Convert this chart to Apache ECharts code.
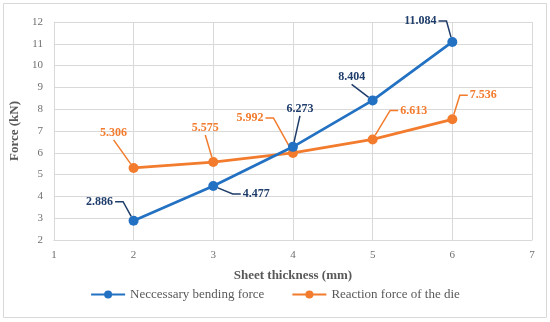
<!DOCTYPE html>
<html>
<head>
<meta charset="utf-8">
<script src="https://cdn.jsdelivr.net/npm/echarts@6/dist/echarts.min.js"></script>
<style>html,body{margin:0;padding:0;background:#fff}#c{width:550px;height:322px}</style>
</head>
<body>
<div id="c"></div>
<script>
var thickness = [2, 3, 4, 5, 6];
var bendingForce = [2.886, 4.477, 6.273, 8.404, 11.084];
var reactionForce = [5.306, 5.575, 5.992, 6.613, 7.536];
var seriesNames = ['Neccessary bending force', 'Reaction force of the die'];

// label offsets (style, not data)
var labelOffsets = [
  [[-34,-19],[43,8],[7,-38],[-21,-23],[-32,-21]],
  [[-20,-35],[-8,-34],[-43,-35],[41,-29],[31,-24]]
];
var leaderSides = [
  ['right','left','bottom','bottom','right'],
  ['bottom','bottom','right','left','left']
];

var FONT = '"Liberation Serif", "DejaVu Serif", serif';
var BLUE = '#2371c2', ORANGE = '#f27b2d';
var BLUE_TXT = '#1f3d6b', ORANGE_TXT = '#f27b2d';
var allVals = [bendingForce, reactionForce];

var mctx = document.createElement('canvas').getContext('2d');
mctx.font = 'bold 12px ' + FONT;
function textW(t) { return mctx.measureText(t).width; }

function makeLayout(si) {
  return function (p) {
    var off = labelOffsets[si][p.dataIndex];
    var cx = p.rect.x + p.rect.width / 2;
    var cy = p.rect.y + p.rect.height / 2;
    return { x: cx + off[0], y: cy + off[1], align: 'center', verticalAlign: 'middle' };
  };
}

function mk(si, vals, color, txt) {
  return {
    name: seriesNames[si],
    type: 'line',
    data: thickness.map(function (x, i) { return [x, vals[i]]; }),
    symbol: 'circle',
    symbolSize: 10,
    lineStyle: { color: color, width: 2.75 },
    itemStyle: { color: color },
    label: {
      show: true,
      formatter: function (p) { return vals[p.dataIndex].toFixed(3); },
      fontFamily: FONT, fontWeight: 'bold', fontSize: 12, color: txt
    },
    labelLayout: makeLayout(si),
    z: 3 - si
  };
}

function leaders(si, txt) {
  var vals = allVals[si];
  return {
    type: 'custom',
    silent: true,
    z: 1,
    data: thickness.map(function (x, i) { return [x, vals[i], i]; }),
    renderItem: function (params, api) {
      var i = api.value(2);
      var c = api.coord([api.value(0), api.value(1)]);
      var off = labelOffsets[si][i];
      var lx = c[0] + off[0], ly = c[1] + off[1];
      var w = textW(vals[i].toFixed(3));
      var side = leaderSides[si][i];
      var s, m;
      if (side === 'right') { s = [lx + w / 2 + 2, ly]; m = [s[0] + 8, ly]; }
      else if (side === 'left') { s = [lx - w / 2 - 2, ly]; m = [s[0] - 8, ly]; }
      else { s = [lx, ly + 7]; m = [(lx + c[0]) / 2, (ly + 7 + c[1]) / 2]; }
      var dx = m[0] - c[0], dy = m[1] - c[1], d = Math.sqrt(dx * dx + dy * dy) || 1;
      var e = [c[0] + dx / d * 5, c[1] + dy / d * 5];
      return {
        type: 'polyline',
        shape: { points: [s, m, e] },
        style: { fill: 'none', stroke: txt, lineWidth: 1.5 }
      };
    }
  };
}

var chart = echarts.init(document.getElementById('c'), null, { renderer: 'canvas' });
chart.setOption({
  animation: false,
  backgroundColor: '#fff',
  textStyle: { fontFamily: FONT },
  graphic: [{
    type: 'rect', shape: { x: 3.5, y: 3.5, width: 543, height: 314 },
    style: { fill: 'none', stroke: '#d9d9d9', lineWidth: 1 }, silent: true
  }],
  grid: { left: 51, right: 18, top: 22, bottom: 82 },
  xAxis: {
    type: 'value', min: 1, max: 7, interval: 1,
    name: 'Sheet thickness (mm)', nameLocation: 'middle', nameGap: 29,
    nameTextStyle: { fontFamily: FONT, fontWeight: 'bold', fontSize: 13, color: '#595959' },
    axisLine: { show: true, lineStyle: { color: '#d9d9d9' } },
    axisTick: { show: false },
    axisLabel: { margin: 10, fontFamily: FONT, fontSize: 11, color: '#6f6f6f' },
    splitLine: { show: true, lineStyle: { color: '#d9d9d9' } }
  },
  yAxis: {
    type: 'value', min: 2, max: 12, interval: 1,
    name: 'Force (kN)', nameLocation: 'middle', nameGap: 22,
    nameTextStyle: { fontFamily: FONT, fontWeight: 'bold', fontSize: 13, color: '#595959' },
    axisLine: { show: true, lineStyle: { color: '#d9d9d9' } },
    axisTick: { show: false },
    axisLabel: { margin: 11, fontFamily: FONT, fontSize: 11, color: '#6f6f6f' },
    splitLine: { show: true, lineStyle: { color: '#d9d9d9' } }
  },
  legend: {
    bottom: 16, left: 'center',
    itemWidth: 34, itemHeight: 10, itemGap: 27,
    textStyle: { fontFamily: FONT, fontSize: 13, color: '#595959' },
    data: seriesNames
  },
  series: [
    mk(0, bendingForce, BLUE, BLUE_TXT),
    mk(1, reactionForce, ORANGE, ORANGE_TXT),
    leaders(0, BLUE_TXT),
    leaders(1, ORANGE_TXT)
  ]
});
</script>
</body>
</html>
